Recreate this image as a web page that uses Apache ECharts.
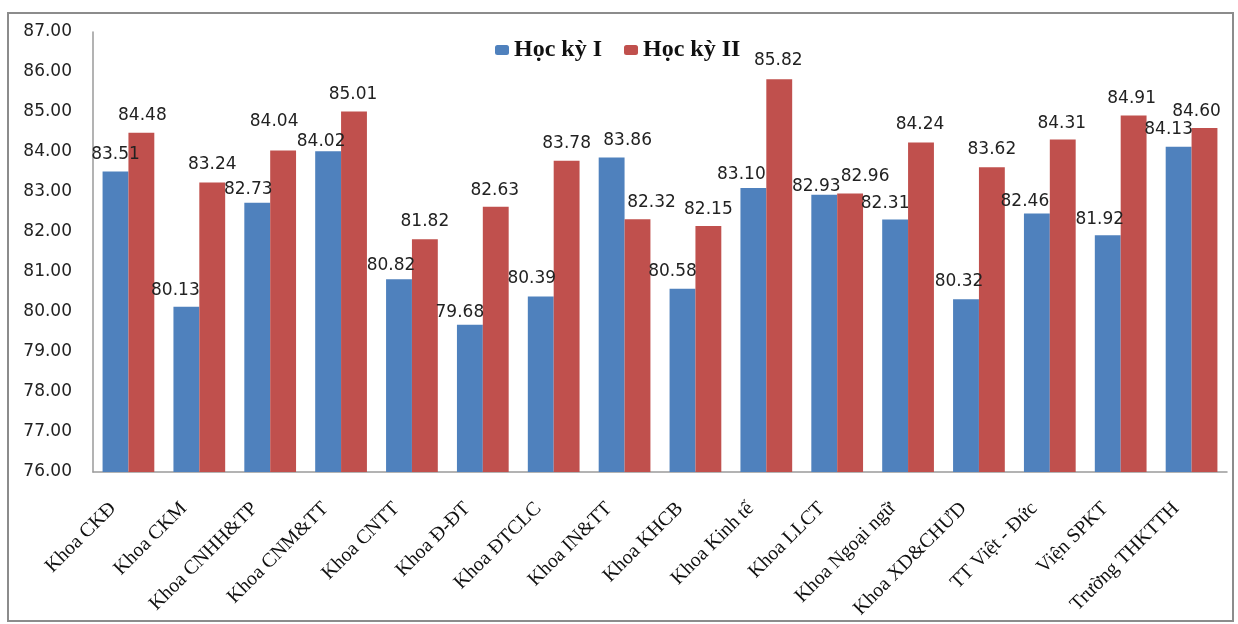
<!DOCTYPE html>
<html>
<head>
<meta charset="utf-8">
<script src="https://cdn.jsdelivr.net/npm/echarts@6/dist/echarts.min.js"></script>
<style>
html,body{margin:0;padding:0;background:#fff;}
#c{width:1238px;height:624px;}
</style>
</head>
<body>
<div id="c"></div>
<script>
const categories = ["Khoa CKĐ","Khoa CKM","Khoa CNHH&TP","Khoa CNM&TT","Khoa CNTT","Khoa Đ-ĐT","Khoa ĐTCLC","Khoa IN&TT","Khoa KHCB","Khoa Kinh tế","Khoa LLCT","Khoa Ngoại ngữ","Khoa XD&CHƯD","TT Việt - Đức","Viện SPKT","Trường THKTTH"];
const hk1 = [83.51,80.13,82.73,84.02,80.82,79.68,80.39,83.86,80.58,83.10,82.93,82.31,80.32,82.46,81.92,84.13];
const hk2 = [84.48,83.24,84.04,85.01,81.82,82.63,83.78,82.32,82.15,85.82,82.96,84.24,83.62,84.31,84.91,84.60];
const seriesNames = ["Học kỳ I","Học kỳ II"];

// hand-placed data-label nudges seen in the original chart (pixels, [dx, dy])
const nudge1 = [[0,0],[-11,1],[-9,4],[-7,8],[-8,4],[-10,5],[-9,0],[16,0],[-10,0],[-12,4],[-8,9],[-10,1],[-7,0],[-12,5],[-8,2],[-10,0]];
const nudge2 = [[1,0],[0,0],[-9,-11],[-1,0],[0,0],[-1,1],[0,0],[14,1],[0,1],[-1,-1],[15,0],[-1,0],[0,0],[-1,1],[-2,0],[-8,1]];

const blueItems = hk1.map((v, i) => ({value: v, label: {offset: nudge1[i]}}));
const redItems = hk2.map((v, i) => ({value: v, label: {offset: nudge2[i]}}));

const chart = echarts.init(document.getElementById('c'));
const labelStyle = {
  show: true, position: 'top', distance: 9,
  formatter: p => p.value.toFixed(2),
  fontFamily: 'DejaVu Sans', fontSize: 17, color: '#222'
};
chart.setOption({
  animation: false,
  graphic: [{
    type: 'rect', shape: {x: 8, y: 13, width: 1225, height: 608},
    style: {fill: 'none', stroke: '#8c8c8c', lineWidth: 2}, z: -1
  }],
  legend: {
    top: 33, left: 490, itemGap: 22, itemWidth: 14, itemHeight: 10,
    data: seriesNames,
    textStyle: {fontFamily: 'Liberation Serif', fontWeight: 'bold', fontSize: 24, color: '#111'}
  },
  grid: {left: 93, right: 11, top: 32, bottom: 152, containLabel: false},
  xAxis: {
    type: 'category', data: categories,
    axisLine: {lineStyle: {color: '#9a9a9a', width: 1.5}},
    axisTick: {show: false},
    axisLabel: {
      rotate: 45, margin: 18, interval: 0,
      formatter: v => '{t|' + v + '}{s|\u00a0}',
      rich: {
        t: {fontFamily: 'Liberation Serif', fontSize: 20, color: '#111'},
        s: {width: 22, fontSize: 20}
      }
    }
  },
  yAxis: {
    type: 'value', min: 76, max: 87, interval: 1,
    axisLine: {show: true, lineStyle: {color: '#9a9a9a', width: 1.5}},
    axisTick: {show: false},
    splitLine: {show: false},
    axisLabel: {formatter: v => v.toFixed(2), margin: 21, fontFamily: 'DejaVu Sans', fontSize: 17, color: '#222'}
  },
  series: [
    {name: seriesNames[0], type: 'bar', data: blueItems, barGap: '0%', barCategoryGap: '27%',
     itemStyle: {color: '#4F81BD'}, label: labelStyle},
    {name: seriesNames[1], type: 'bar', data: redItems, barGap: '0%', barCategoryGap: '27%',
     itemStyle: {color: '#C0504D'}, label: labelStyle}
  ]
});
</script>
</body>
</html>
